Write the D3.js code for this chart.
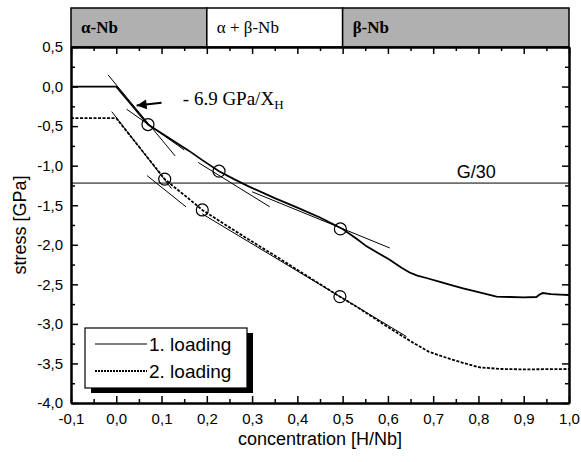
<!DOCTYPE html>
<html>
<head>
<meta charset="utf-8">
<style>
body { margin: 0; background: #fff; }
svg { display: block; }
.tick text { font: 15px "Liberation Sans", Arial, sans-serif; fill: #000; }
.axis path, .axis line { stroke: #000; }
.axis path { stroke-width: 2; }
.axis line { stroke-width: 1.5; }
.title { font: 18px "Liberation Sans", Arial, sans-serif; }
.serif { font-family: "Liberation Serif", "Times New Roman", serif; }
</style>
</head>
<body>
<div id="chart"></div>
<script src="https://cdn.jsdelivr.net/npm/d3@7"></script>
<script>

// ---- data ----
var xTicks = [-0.1, 0.0, 0.1, 0.2, 0.3, 0.4, 0.5, 0.6, 0.7, 0.8, 0.9, 1.0];
var yTicks = [0.5, 0.0, -0.5, -1.0, -1.5, -2.0, -2.5, -3.0, -3.5, -4.0];

var phases = [
  {from: -0.1, to: 0.2, label: "α-Nb", shaded: true, bold: true},
  {from: 0.2, to: 0.5, label: "α + β-Nb", shaded: false, bold: false},
  {from: 0.5, to: 1.0, label: "β-Nb", shaded: true, bold: true}
];

var loading1 = [
  [-0.1, 0], [0.0, 0], [0.07, -0.48], [0.10, -0.59], [0.13, -0.70], [0.16, -0.81],
  [0.19, -0.93], [0.227, -1.07], [0.26, -1.17], [0.29, -1.255], [0.35, -1.41],
  [0.40, -1.53], [0.45, -1.655], [0.50, -1.80], [0.53, -1.92], [0.553, -2.02],
  [0.58, -2.11], [0.604, -2.19], [0.63, -2.29], [0.648, -2.35], [0.665, -2.39],
  [0.685, -2.42], [0.715, -2.47], [0.74, -2.51], [0.766, -2.55], [0.80, -2.60],
  [0.84, -2.655], [0.87, -2.66], [0.90, -2.665], [0.928, -2.66], [0.935, -2.63],
  [0.942, -2.61], [0.96, -2.625], [0.98, -2.63], [1.0, -2.635]
];

var loading2 = [
  [-0.1, -0.4], [0.0, -0.4], [0.107, -1.17], [0.13, -1.28], [0.15, -1.37],
  [0.19, -1.56], [0.25, -1.78], [0.30, -1.96], [0.354, -2.15], [0.42, -2.39],
  [0.494, -2.656], [0.53, -2.78], [0.56, -2.89], [0.60, -3.04], [0.656, -3.24],
  [0.69, -3.35], [0.73, -3.43], [0.77, -3.50], [0.803, -3.55], [0.85, -3.57],
  [0.90, -3.575], [1.0, -3.57]
];

var tangents = [
  [[-0.018, 0.147], [0.13, -0.877]],
  [[0.023, -0.287], [0.15, -0.80]],
  [[0.181, -0.96], [0.339, -1.52]],
  [[0.30, -1.33], [0.604, -2.04]],
  [[-0.01, -0.317], [0.122, -1.29]],
  [[0.068, -1.126], [0.154, -1.52]],
  [[0.19, -1.61], [0.641, -3.16]]
];

var marks = [[0.07, -0.48], [0.227, -1.07], [0.495, -1.80], [0.107, -1.17], [0.19, -1.56], [0.494, -2.656]];

var shearLimit = -1.22;   // G/30
var slopeArrow = [[0.100, -0.204], [0.045, -0.24]];

// ---- layout ----
var W = 581, H = 462;
var margin = {top: 47, right: 12, bottom: 59, left: 71};

var svg = d3.select("#chart").append("svg")
    .attr("width", W)
    .attr("height", H);

var x = d3.scaleLinear().domain([-0.1, 1.0]).range([margin.left, W - margin.right]);
var y = d3.scaleLinear().domain([-4.0, 0.5]).range([H - margin.bottom, margin.top]);

var fmt = function(d) { return d.toFixed(1).replace(".", ","); };
var xMinor = d3.range(-0.05, 1.0, 0.1);
var yMinor = d3.range(0.25, -4.0, -0.5);

// phase band on top
var band = svg.append("g");
band.selectAll("rect")
    .data(phases)
  .enter().append("rect")
    .attr("x", function(d) { return x(d.from); })
    .attr("y", 8)
    .attr("width", function(d) { return x(d.to) - x(d.from); })
    .attr("height", margin.top - 8)
    .style("fill", function(d) { return d.shaded ? "#b0b0b0" : "#fff"; })
    .style("stroke", "#000")
    .style("stroke-width", 1.5);

band.selectAll("text")
    .data(phases)
  .enter().append("text")
    .attr("class", "serif")
    .attr("x", function(d) { return x(d.from) + 10; })
    .attr("y", 33)
    .style("font-size", "17px")
    .style("font-weight", function(d) { return d.bold ? "bold" : "normal"; })
    .text(function(d) { return d.label; });

// G/30 line
svg.append("line")
    .attr("x1", x(-0.1)).attr("x2", x(1.0))
    .attr("y1", y(shearLimit)).attr("y2", y(shearLimit))
    .style("stroke", "#000").style("stroke-width", 1);

svg.append("text")
    .attr("class", "title")
    .attr("x", x(0.795)).attr("y", y(-1.155))
    .style("text-anchor", "middle")
    .text("G/30");

// tangent lines
svg.selectAll(".tangent")
    .data(tangents)
  .enter().append("line")
    .attr("class", "tangent")
    .attr("x1", function(d) { return x(d[0][0]); })
    .attr("y1", function(d) { return y(d[0][1]); })
    .attr("x2", function(d) { return x(d[1][0]); })
    .attr("y2", function(d) { return y(d[1][1]); })
    .style("stroke", "#000").style("stroke-width", 1);

var line = d3.line()
    .x(function(d) { return x(d[0]); })
    .y(function(d) { return y(d[1]); });

svg.append("path")
    .datum(loading1)
    .attr("d", line)
    .style("fill", "none").style("stroke", "#000").style("stroke-width", 1.8);

svg.append("path")
    .datum(loading2)
    .attr("d", line)
    .style("fill", "none").style("stroke", "#000").style("stroke-width", 1.8)
    .style("stroke-dasharray", "3,1.5");

svg.selectAll(".mark")
    .data(marks)
  .enter().append("circle")
    .attr("class", "mark")
    .attr("cx", function(d) { return x(d[0]); })
    .attr("cy", function(d) { return y(d[1]); })
    .attr("r", 6)
    .style("fill", "none").style("stroke", "#000").style("stroke-width", 1.2);

// slope annotation
svg.append("defs").append("marker")
    .attr("id", "head")
    .attr("viewBox", "0 0 10 10")
    .attr("refX", 10).attr("refY", 5)
    .attr("markerWidth", 13).attr("markerHeight", 10)
    .attr("markerUnits", "userSpaceOnUse")
    .attr("orient", "auto")
  .append("path")
    .attr("d", "M0,0 L10,5 L0,10 z")
    .style("fill", "#000");

svg.append("line")
    .attr("x1", x(slopeArrow[0][0])).attr("y1", y(slopeArrow[0][1]))
    .attr("x2", x(slopeArrow[1][0])).attr("y2", y(slopeArrow[1][1]))
    .attr("marker-end", "url(#head)")
    .style("stroke", "#000").style("stroke-width", 2);

var note = svg.append("text")
    .attr("class", "serif")
    .attr("x", x(0.147)).attr("y", y(-0.233))
    .style("font-size", "19px")
    .text("- 6.9 GPa/X");
note.append("tspan")
    .attr("dy", 4)
    .style("font-size", "13px")
    .text("H");

// axes, ticks pointing inward
function ticks(g, axis) { g.attr("class", "axis").call(axis); }

svg.append("g").attr("transform", "translate(0," + y(-4) + ")")
    .call(ticks, d3.axisBottom(x).tickValues(xTicks).tickFormat(fmt).tickSizeInner(-7).tickSizeOuter(0).tickPadding(10));
svg.append("g").attr("transform", "translate(0," + y(-4) + ")")
    .call(ticks, d3.axisBottom(x).tickValues(xMinor).tickFormat("").tickSizeInner(-4).tickSizeOuter(0));
svg.append("g").attr("transform", "translate(0," + y(0.5) + ")")
    .call(ticks, d3.axisTop(x).tickValues(xTicks).tickFormat("").tickSizeInner(-7).tickSizeOuter(0));
svg.append("g").attr("transform", "translate(0," + y(0.5) + ")")
    .call(ticks, d3.axisTop(x).tickValues(xMinor).tickFormat("").tickSizeInner(-4).tickSizeOuter(0));

svg.append("g").attr("transform", "translate(" + x(-0.1) + ",0)")
    .call(ticks, d3.axisLeft(y).tickValues(yTicks).tickFormat(fmt).tickSizeInner(-7).tickSizeOuter(0).tickPadding(8));
svg.append("g").attr("transform", "translate(" + x(-0.1) + ",0)")
    .call(ticks, d3.axisLeft(y).tickValues(yMinor).tickFormat("").tickSizeInner(-4).tickSizeOuter(0));
svg.append("g").attr("transform", "translate(" + x(1.0) + ",0)")
    .call(ticks, d3.axisRight(y).tickValues(yTicks).tickFormat("").tickSizeInner(-7).tickSizeOuter(0));
svg.append("g").attr("transform", "translate(" + x(1.0) + ",0)")
    .call(ticks, d3.axisRight(y).tickValues(yMinor).tickFormat("").tickSizeInner(-4).tickSizeOuter(0));

// axis titles
svg.append("text")
    .attr("class", "title")
    .attr("x", (x(-0.1) + x(1.0)) / 2)
    .attr("y", 445)
    .style("text-anchor", "middle")
    .text("concentration [H/Nb]");

svg.append("text")
    .attr("class", "title")
    .attr("transform", "translate(26," + (y(-1.75)) + ") rotate(-90)")
    .style("text-anchor", "middle")
    .text("stress [GPa]");

// legend with drop shadow
var legend = svg.append("g").attr("transform", "translate(85,328)");
legend.append("rect")
    .attr("x", 6).attr("y", 5).attr("width", 162).attr("height", 60)
    .style("fill", "#000");
legend.append("rect")
    .attr("width", 162).attr("height", 60)
    .style("fill", "#fff").style("stroke", "#000").style("stroke-width", 1.2);

var entries = ["1. loading", "2. loading"];
legend.selectAll(".entry")
    .data(entries)
  .enter().append("g")
    .attr("class", "entry")
    .attr("transform", function(d, i) { return "translate(0," + (16 + i * 27) + ")"; })
    .each(function(d, i) {
      var g = d3.select(this);
      g.append("line")
        .attr("x1", 10).attr("x2", 62)
        .style("stroke", "#000").style("stroke-width", i ? 1.8 : 1.2)
        .style("stroke-dasharray", i ? "2,1" : null);
      g.append("text")
        .attr("class", "title")
        .attr("x", 64).attr("y", 7)
        .style("font-size", "19px")
        .text(d);
    });

</script>
</body>
</html>
